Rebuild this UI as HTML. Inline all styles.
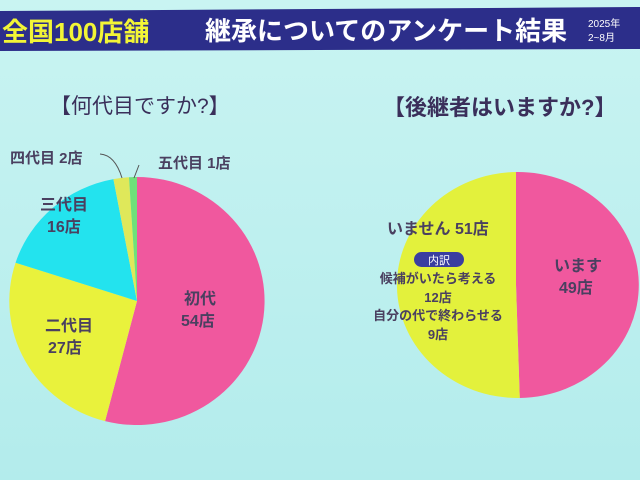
<!DOCTYPE html>
<html><head><meta charset="utf-8"><style>
body{margin:0;width:640px;height:480px;overflow:hidden;background:#c4f2ef;font-family:"Liberation Sans","Noto Sans CJK JP",sans-serif}
</style></head><body>
<svg width="640" height="480" viewBox="0 0 640 480" xmlns="http://www.w3.org/2000/svg" style="position:absolute;left:0;top:0">
<defs><linearGradient id="bg" x1="0" y1="0" x2="0" y2="1"><stop offset="0" stop-color="#c9f4f2"/><stop offset="1" stop-color="#b3ecec"/></linearGradient></defs>
<rect width="640" height="480" fill="url(#bg)"/>
<polygon points="0,11 640,7 640,49 0,51" fill="#2c2e8a"/>
<text x="2" y="41" font-size="26" font-weight="bold" fill="#f2f536" font-family="'Liberation Sans','Noto Sans CJK JP',sans-serif">全国100店舗</text>
<text x="205" y="40" font-size="26" font-weight="bold" fill="#ffffff" font-family="'Liberation Sans','Noto Sans CJK JP',sans-serif">継承についてのアンケート結果</text>
<text x="588" y="27" font-size="10" fill="#fff">2025年</text>
<text x="588" y="41" font-size="10" fill="#fff">2~8月</text>
<text x="50" y="113" font-size="21" fill="#3a2f5a" font-family="'Liberation Sans','Noto Sans CJK JP',sans-serif">【何代目ですか?】</text>
<text x="383" y="115" font-size="22" font-weight="bold" fill="#3a2f5a" font-family="'Liberation Sans','Noto Sans CJK JP',sans-serif">【後継者はいますか?】</text>
<g transform="translate(137,301) scale(1.03,1)">
<path d="M0,0 L0,-124 A124,124 0 1,1 -31.0,120.1 Z" fill="#f0589e"/>
<path d="M0,0 L-31.0,120.1 A124,124 0 0,1 -117.9,-38.3 Z" fill="#e9f23c"/>
<path d="M0,0 L-117.9,-38.3 A124,124 0 0,1 -22.9,-121.9 Z" fill="#23e3ee"/>
<path d="M0,0 L-22.9,-121.9 A124,124 0 0,1 -7.8,-123.8 Z" fill="#dfe85a"/>
<path d="M0,0 L-7.8,-123.8 A124,124 0 0,1 0,-124 Z" fill="#6fe07a"/>
</g>
<g transform="translate(516,285) scale(1.07,1)">
<path d="M0,0 L0,-113 A113,113 0 0,1 3.5,113 Z" fill="#f0589e"/>
<path d="M0,0 L3.5,113 A113,113 0 0,1 0,-113 Z" fill="#e3f13c"/>
</g>
<path d="M100,154 Q115,155 122,178 M139,165 L134,178" stroke="#555" fill="none" stroke-width="1"/>
<g font-size="15" font-weight="bold" fill="#4a4060" font-family="'Liberation Sans','Noto Sans CJK JP',sans-serif">
<text x="10" y="163">四代目 2店</text>
<text x="158" y="168">五代目 1店</text>
<text x="40" y="210" font-size="16">三代目</text>
<text x="47" y="232" font-size="16">16店</text>
<text x="45" y="331" font-size="16">二代目</text>
<text x="48" y="353" font-size="16">27店</text>
<text x="184" y="304" font-size="16">初代</text>
<text x="181" y="326" font-size="16">54店</text>
<text x="387" y="234" font-size="16">いません 51店</text>
<text x="554" y="271" font-size="16">います</text>
<text x="559" y="293" font-size="16">49店</text>
</g>
<rect x="414" y="252" width="50" height="15" rx="7.5" fill="#3a3ea0"/>
<text x="439" y="264" font-size="11" fill="#fff" text-anchor="middle">内訳</text>
<g font-size="13" font-weight="bold" fill="#4a4060" text-anchor="middle" font-family="'Liberation Sans','Noto Sans CJK JP',sans-serif">
<text x="438" y="283">候補がいたら考える</text>
<text x="438" y="302">12店</text>
<text x="438" y="320">自分の代で終わらせる</text>
<text x="438" y="339">9店</text>
</g>
</svg>
</body></html>
